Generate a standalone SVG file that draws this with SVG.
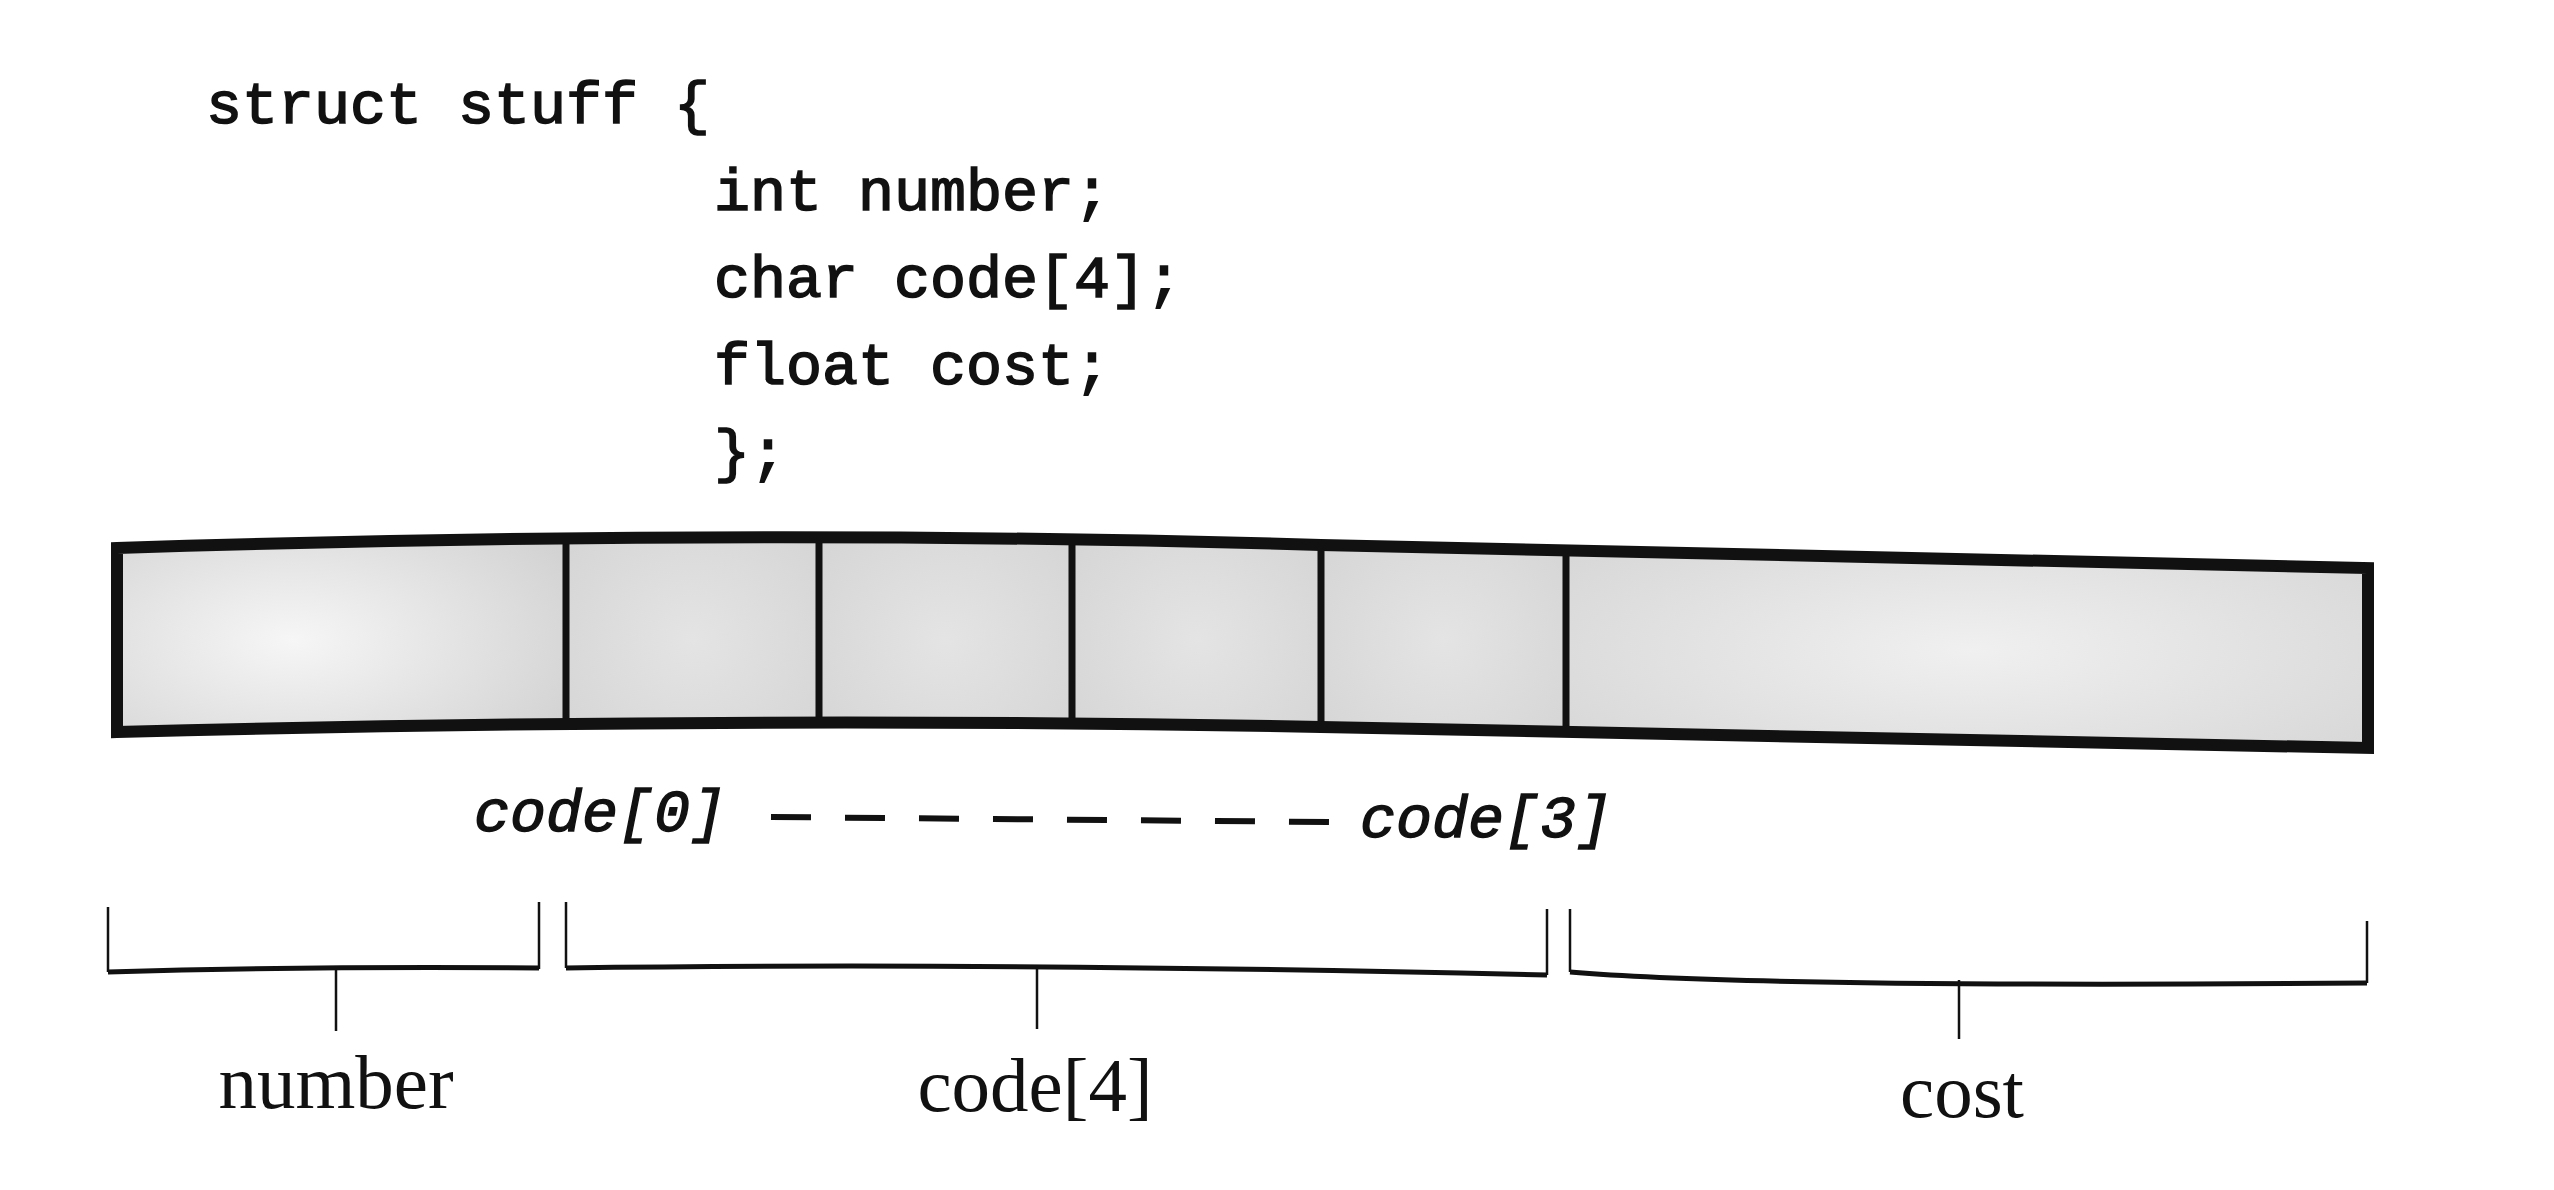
<svg xmlns="http://www.w3.org/2000/svg" width="2554" height="1190" viewBox="0 0 2554 1190">
<style>
.code{font-family:"Liberation Mono","Courier New",monospace;font-size:60px;fill:#111;stroke:#111;stroke-width:1.6}
.idx{font-family:"Liberation Mono","Courier New",monospace;font-size:60px;font-style:italic;fill:#111;stroke:#111;stroke-width:1.4}
.lbl{font-family:"Liberation Serif","Times New Roman",serif;font-size:77px;fill:#111;text-anchor:middle}
.div{stroke:#111;stroke-width:7;fill:none}
.vert{stroke:#111;stroke-width:2.5;fill:none}
.horz{stroke:#111;stroke-width:5;fill:none}
</style>
<defs>
<clipPath id="barClip"><path d="M117,548 Q750,528 1321,545 L2368,568 L2368,748 L1321,727 Q750,716 117,732 Z"/></clipPath>
<radialGradient id="gNum" cx="0.4" cy="0.5" r="0.7"><stop offset="0" stop-color="#f6f6f6"/><stop offset="1" stop-color="#d2d2d2"/></radialGradient>
<radialGradient id="gCode" cx="0.5" cy="0.5" r="0.7"><stop offset="0" stop-color="#e4e4e4"/><stop offset="1" stop-color="#d4d4d4"/></radialGradient>
<radialGradient id="gCost" cx="0.5" cy="0.5" r="0.7"><stop offset="0" stop-color="#f0f0f0"/><stop offset="1" stop-color="#d4d4d4"/></radialGradient>
</defs>
<rect width="2554" height="1190" fill="#ffffff"/>

<g id="struct-code">
<text class="code" x="206" y="123">struct stuff {</text>
<text class="code" x="714" y="210">int number;</text>
<text class="code" x="714" y="297">char code[4];</text>
<text class="code" x="714" y="384">float cost;</text>
<text class="code" x="714" y="471">};</text>
</g>

<g id="bar">
<g clip-path="url(#barClip)">
<rect id="cell-number" x="110" y="520" width="456" height="240" fill="url(#gNum)"/>
<rect id="cell-code0" x="566" y="520" width="253" height="240" fill="url(#gCode)"/>
<rect id="cell-code1" x="819" y="520" width="253" height="240" fill="url(#gCode)"/>
<rect id="cell-code2" x="1072" y="520" width="249" height="240" fill="url(#gCode)"/>
<rect id="cell-code3" x="1321" y="520" width="245" height="240" fill="url(#gCode)"/>
<rect id="cell-cost" x="1566" y="520" width="810" height="260" fill="url(#gCost)"/>
</g>
<line class="div" x1="566" y1="538" x2="566" y2="724"/>
<line class="div" x1="819" y1="537" x2="819" y2="723"/>
<line class="div" x1="1072" y1="540" x2="1072" y2="724"/>
<line class="div" x1="1321" y1="545" x2="1321" y2="727"/>
<line class="div" x1="1566" y1="550" x2="1566" y2="732"/>
<path d="M117,548 Q750,528 1321,545 L2368,568 L2368,748 L1321,727 Q750,716 117,732 Z" fill="none" stroke="#111" stroke-width="12" stroke-linejoin="miter"/>
</g>

<g id="index-labels">
<text class="idx" x="474" y="831">code[0]</text>
<text class="idx" x="1360" y="837">code[3]</text>
</g>

<g id="connectors">
<line x1="771" y1="817" x2="1329" y2="822" stroke="#111" stroke-width="6" stroke-dasharray="40 34"/>
<path class="vert" d="M108,907 V972 M539,902 V969 M336,970 V1031"/>
<path class="horz" d="M108,972 Q320,966 539,968"/>
<path class="vert" d="M566,902 V968 M1547,909 V975 M1037,969 V1029"/>
<path class="horz" d="M566,968 Q1000,962 1547,975"/>
<path class="vert" d="M1570,909 V972 M2367,921 V983 M1959,980 V1039"/>
<path class="horz" d="M1570,972 Q1760,988 2367,983"/>
</g>

<g id="field-labels">
<text class="lbl" x="336" y="1108">number</text>
<text class="lbl" x="1035" y="1111">code[4]</text>
<text class="lbl" x="1962" y="1117">cost</text>
</g>
</svg>
